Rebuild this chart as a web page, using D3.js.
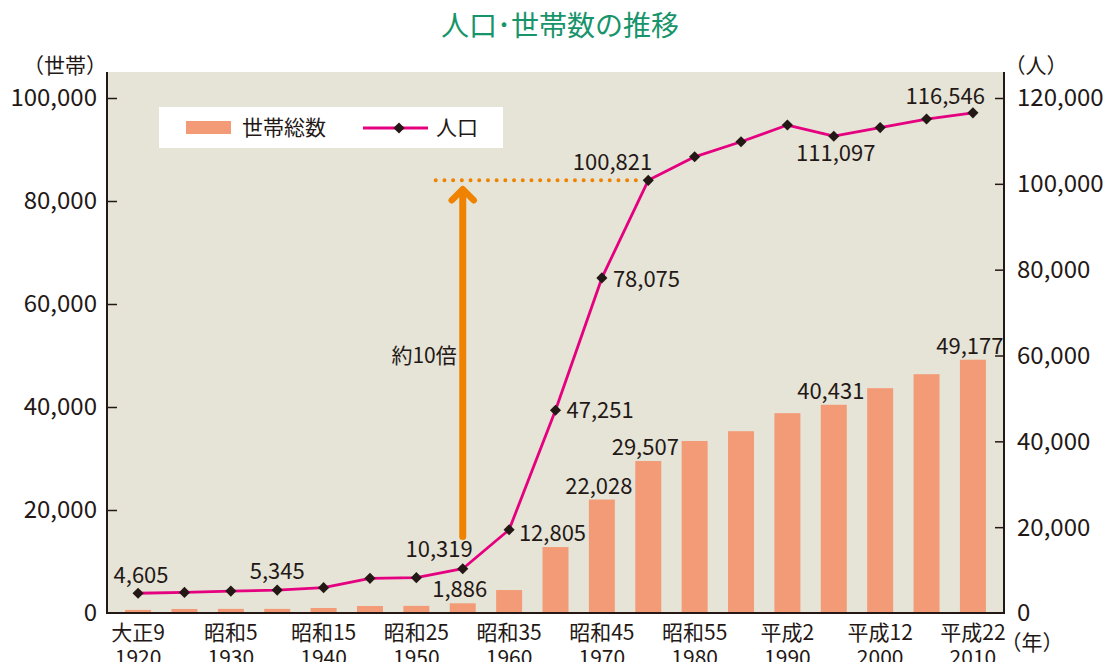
<!DOCTYPE html>
<html>
<head>
<meta charset="utf-8">
<script src="https://cdn.jsdelivr.net/npm/d3@7"></script>
<style>
  html, body { margin: 0; padding: 0; background: #ffffff; }
  svg { display: block; font-family: "Noto Sans CJK JP", "Noto Sans", sans-serif; }
</style>
</head>
<body>
<svg id="chart" width="1108" height="662"></svg>
<script>
// ---- data ----
const years = [1920,1925,1930,1935,1940,1945,1950,1955,1960,1965,1970,1975,1980,1985,1990,1995,2000,2005,2010];
const households = [600,780,800,800,970,1360,1380,1886,4460,12805,22028,29507,33400,35300,38800,40431,43650,46370,49177];
const population = [4605,4800,5100,5345,5900,8080,8230,10319,19400,47251,78075,100821,106300,109800,113700,111097,113100,115100,116546];
const tickYears = [1920,1930,1940,1950,1960,1970,1980,1990,2000,2010];
const eraLabels = ["大正9","昭和5","昭和15","昭和25","昭和35","昭和45","昭和55","平成2","平成12","平成22"];
const householdTicks = [0,20000,40000,60000,80000,100000];
const populationTicks = [0,20000,40000,60000,80000,100000,120000];
const labeledHouseholdYears = [1955,1965,1970,1975,1995,2010];
const labeledPopulationYears = [1920,1935,1955,1965,1970,1975,1995,2010];
const arrowFrom = 17800, arrowTo = 100821, arrowYear = 1955;

// ---- styles ----
const C = {
  bg: "#e6e3d7", bar: "#f39b77", line: "#e4007f", marker: "#231815",
  text: "#231815", orange: "#ef8200", title: "#17946a"
};
const L = 107, R = 1004, T = 72, B = 613;

const svg = d3.select("#chart");
const x = d3.scaleBand().domain(years).range([L, R]).paddingInner(0.44).paddingOuter(0.39);
const cx = d => x(d) + x.bandwidth() / 2;
const yH = d3.scaleLinear().domain([0, 100000]).range([B, 98]);
const yP = d3.scaleLinear().domain([0, 120000]).range([B, 98]);
const fmt = d3.format(",");

// title
svg.append("text").attr("x", 560).attr("y", 36).attr("text-anchor", "middle")
  .attr("font-size", 28).attr("fill", C.title).text("人口･世帯数の推移");

// plot background
svg.append("rect").attr("x", L).attr("y", T).attr("width", R - L).attr("height", B - T).attr("fill", C.bg);

// bars
svg.append("g").selectAll("rect").data(years).join("rect")
  .attr("x", d => x(d)).attr("width", x.bandwidth())
  .attr("y", (d, i) => yH(households[i])).attr("height", (d, i) => B - yH(households[i]))
  .attr("fill", C.bar);

// annotation: dotted line & arrow
const ax = cx(arrowYear);
svg.append("line").attr("x1", ax - 27).attr("x2", cx(1975) - 6)
  .attr("y1", yP(arrowTo)).attr("y2", yP(arrowTo))
  .attr("stroke", C.orange).attr("stroke-width", 4).attr("stroke-linecap", "round")
  .attr("stroke-dasharray", "0 8.7");
const tipY = yP(arrowTo) + 9;
svg.append("line").attr("x1", ax).attr("x2", ax).attr("y1", yP(arrowFrom)).attr("y2", tipY + 2)
  .attr("stroke", C.orange).attr("stroke-width", 7).attr("stroke-linecap", "round");
svg.append("path").attr("d", `M${ax - 11},${tipY + 11}L${ax},${tipY}L${ax + 11},${tipY + 11}`)
  .attr("fill", "none").attr("stroke", C.orange).attr("stroke-width", 6.5)
  .attr("stroke-linecap", "round").attr("stroke-linejoin", "round");
svg.append("text").attr("x", ax - 6).attr("y", 363).attr("text-anchor", "end")
  .attr("font-size", 21).attr("fill", C.text).text("約10倍");

// population line
const line = d3.line().x((d, i) => cx(years[i])).y(d => yP(d));
svg.append("path").datum(population).attr("d", line)
  .attr("fill", "none").attr("stroke", C.line).attr("stroke-width", 2.8).attr("stroke-linejoin", "round");
const diamond = d3.symbol().type(d3.symbolSquare).size(62);
svg.append("g").selectAll("path").data(population).join("path")
  .attr("d", diamond)
  .attr("transform", (d, i) => `translate(${cx(years[i])},${yP(d)}) rotate(45)`)
  .attr("fill", C.marker);

// axes
const gl = svg.append("g").attr("transform", `translate(${L},0)`)
  .call(d3.axisLeft(yH).tickValues(householdTicks).tickFormat(fmt).tickSize(-10).tickPadding(10));
const gr = svg.append("g").attr("transform", `translate(${R},0)`)
  .call(d3.axisRight(yP).tickValues(populationTicks).tickFormat(fmt).tickSize(-9).tickPadding(13));
[gl, gr].forEach(g => {
  g.select(".domain").remove();
  g.selectAll(".tick line").attr("stroke", C.text).attr("stroke-width", 1.5);
  g.selectAll(".tick text").attr("fill", C.text).attr("font-size", 24)
    .attr("font-family", "'Noto Sans CJK JP', sans-serif").attr("dy", "0.33em");
});
gl.selectAll(".tick").filter(d => d === 0).select("line").remove();
gr.selectAll(".tick").filter(d => d === 0).select("line").remove();
svg.append("path").attr("d", `M${L},${T}V${B}H${R}V${T}`)
  .attr("fill", "none").attr("stroke", C.text).attr("stroke-width", 2);

// x labels
const xl = svg.append("g").attr("fill", C.text).attr("font-size", 21).attr("text-anchor", "middle");
tickYears.forEach((yr, i) => {
  xl.append("text").attr("x", cx(yr)).attr("y", 640).text(eraLabels[i]);
  xl.append("text").attr("x", cx(yr)).attr("y", 665).text(yr);
});

// unit labels
svg.append("text").attr("x", 65).attr("y", 73).attr("text-anchor", "middle").attr("font-size", 21).attr("fill", C.text).text("（世帯）");
svg.append("text").attr("x", 1036).attr("y", 73).attr("text-anchor", "middle").attr("font-size", 21).attr("fill", C.text).text("（人）");
svg.append("text").attr("x", 1032).attr("y", 650).attr("text-anchor", "middle").attr("font-size", 21).attr("fill", C.text).text("（年）");

// data labels
const popPlace = {
  1920: ["middle", 3, -10], 1935: ["middle", 0, -11], 1955: ["end", 10, -12],
  1965: ["start", 11, 8], 1970: ["start", 11, 9], 1975: ["end", 4, -10],
  1995: ["middle", 2, 25], 2010: ["end", 12, -9]
};
const dl = svg.append("g").attr("fill", C.text).attr("font-size", 22);
labeledPopulationYears.forEach(yr => {
  const i = years.indexOf(yr), p = popPlace[yr];
  dl.append("text").attr("text-anchor", p[0])
    .attr("x", cx(yr) + p[1]).attr("y", yP(population[i]) + p[2]).text(fmt(population[i]));
});
labeledHouseholdYears.forEach(yr => {
  const i = years.indexOf(yr);
  dl.append("text").attr("text-anchor", "middle")
    .attr("x", cx(yr) - 3).attr("y", yH(households[i]) - 6).text(fmt(households[i]));
});

// legend
const lg = svg.append("g");
lg.append("rect").attr("x", 159).attr("y", 107).attr("width", 344).attr("height", 41).attr("fill", "#ffffff");
lg.append("rect").attr("x", 186).attr("y", 121).attr("width", 45).attr("height", 13).attr("fill", C.bar);
lg.append("text").attr("x", 242).attr("y", 135).attr("font-size", 21).attr("fill", C.text).text("世帯総数");
lg.append("line").attr("x1", 363).attr("x2", 428).attr("y1", 128).attr("y2", 128).attr("stroke", C.line).attr("stroke-width", 2.8);
lg.append("path").attr("d", diamond).attr("transform", "translate(399,128) rotate(45)").attr("fill", C.marker);
lg.append("text").attr("x", 436).attr("y", 135).attr("font-size", 21).attr("fill", C.text).text("人口");
</script>
</body>
</html>
